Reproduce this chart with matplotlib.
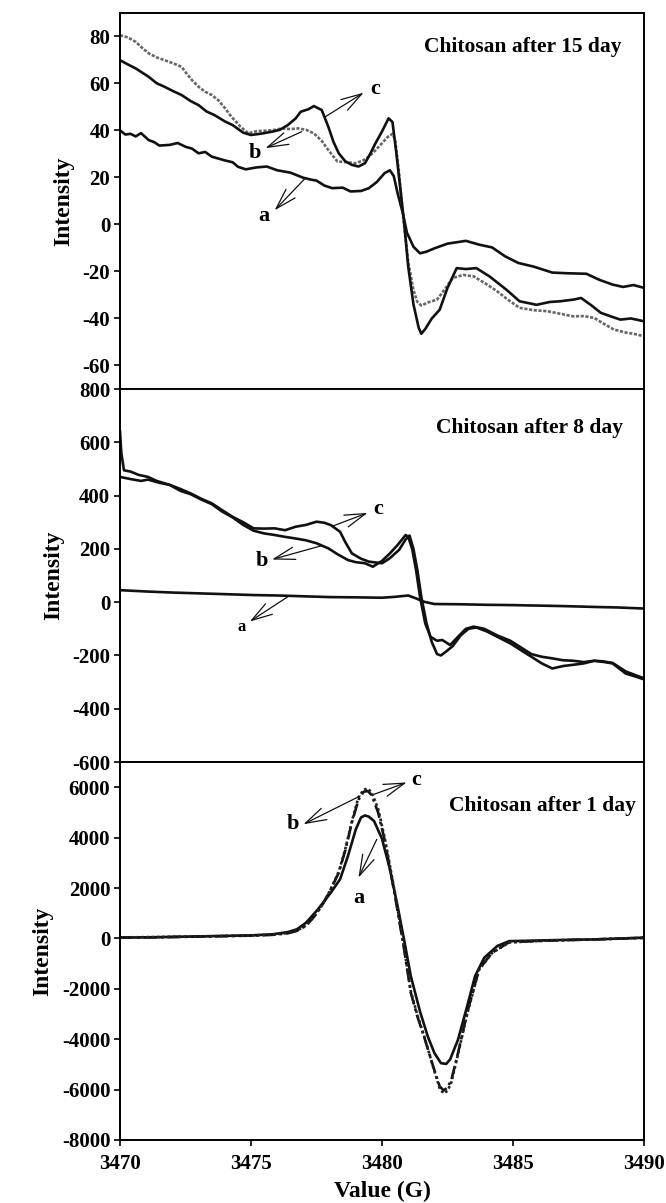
import numpy as np
import matplotlib
matplotlib.use("Agg")
import matplotlib.pyplot as plt

plt.rcParams['font.family'] = ['Liberation Serif', 'DejaVu Serif']
plt.rcParams['font.weight'] = 'bold'
plt.rcParams['axes.unicode_minus'] = False

# ---- 15 day panel ----
top_x_a = [3470.0, 3470.2, 3470.4, 3470.6, 3470.8, 3471.1, 3471.3, 3471.5, 3471.9, 3472.2,
           3472.5, 3472.75, 3473.0, 3473.25, 3473.5, 3474.0, 3474.3, 3474.5, 3474.8, 3475.2,
           3475.6, 3476.0, 3476.5, 3477.0, 3477.3, 3477.5, 3477.8, 3478.1, 3478.5, 3478.8,
           3479.2, 3479.5, 3479.8, 3480.1, 3480.3, 3480.45, 3480.6, 3480.8, 3480.95, 3481.2,
           3481.45, 3481.7, 3482.0, 3482.5, 3483.2, 3483.7, 3484.2, 3484.7, 3485.2, 3485.8,
           3486.5, 3487.1, 3487.8, 3488.3, 3488.8, 3489.2, 3489.6, 3490.0]
top_a = [40.0, 38.2, 38.5, 37.4, 38.8, 35.8, 35.0, 33.5, 33.8, 34.6,
         33.0, 32.2, 30.2, 30.8, 28.8, 27.2, 26.4, 24.5, 23.4, 24.2,
         24.6, 23.0, 22.0, 19.8, 19.0, 18.6, 16.5, 15.4, 15.6, 14.0,
         14.2, 15.4, 18.0, 21.8, 23.0, 20.5, 13.0, 4.5, -3.5, -9.5,
         -12.3, -11.6, -10.2, -8.2, -7.0, -8.6, -9.8, -13.6, -16.4, -18.0,
         -20.5, -20.8, -21.0, -23.6, -25.6, -26.6, -25.8, -27.0]

top_x_b = [3470.0, 3470.3, 3470.6, 3470.85, 3471.1, 3471.4, 3471.7, 3472.0, 3472.35, 3472.55,
           3472.75, 3473.0, 3473.25, 3473.5, 3473.75, 3474.0, 3474.25, 3474.6, 3474.9, 3475.2,
           3475.5, 3475.8, 3476.2, 3476.5, 3476.8, 3477.1, 3477.4, 3477.7, 3477.95, 3478.3,
           3478.6, 3478.97, 3479.25, 3479.5, 3479.75, 3480.0, 3480.2, 3480.4, 3480.5, 3480.65,
           3480.8, 3481.0, 3481.2, 3481.35, 3481.5, 3481.8, 3482.1, 3482.4, 3482.7, 3483.1,
           3483.5, 3483.7, 3484.0, 3484.4, 3484.8, 3485.25, 3485.8, 3486.3, 3486.8, 3487.3,
           3487.7, 3488.1, 3488.5, 3488.85, 3489.3, 3489.6, 3490.0]
top_b = [80.4, 79.5, 77.6, 75.0, 72.7, 71.0, 69.8, 68.6, 67.0, 64.0,
         61.3, 58.5, 56.4, 55.0, 52.8, 49.5, 45.8, 41.5, 38.7, 39.6,
         39.8, 40.0, 40.8, 40.5, 40.8, 40.2, 38.7, 35.5, 31.6, 26.7,
         26.5, 26.0, 27.0, 28.8, 31.5, 34.5, 37.0, 38.5, 36.0, 22.0,
         4.0, -16.0, -28.0, -33.0, -34.5, -33.0, -32.0, -27.5, -22.8, -21.5,
         -22.1, -23.5, -25.5, -28.5, -32.0, -35.5, -36.5, -36.9, -38.0, -39.1,
         -39.0, -39.8, -42.5, -44.7, -46.0, -46.5, -47.6]

top_x_c = [3470.0, 3470.3, 3470.6, 3471.1, 3471.4, 3471.7, 3472.0, 3472.35, 3472.7, 3473.0,
           3473.3, 3473.6, 3474.0, 3474.3, 3474.7, 3475.0, 3475.4, 3475.8, 3476.1, 3476.4,
           3476.7, 3476.9, 3477.2, 3477.4, 3477.7, 3477.95, 3478.15, 3478.35, 3478.6, 3478.85,
           3479.1, 3479.35, 3479.55, 3479.75, 3480.0, 3480.25, 3480.4, 3480.55, 3480.7, 3480.85,
           3481.0, 3481.2, 3481.4, 3481.5, 3481.65, 3481.9, 3482.2, 3482.5, 3482.85, 3483.2,
           3483.6, 3484.1, 3484.75, 3485.25, 3485.9, 3486.4, 3486.8, 3487.3, 3487.6, 3488.0,
           3488.35, 3488.7, 3489.1, 3489.5, 3490.0]
top_c = [69.8, 68.0, 66.3, 62.7, 60.0, 58.5, 56.8, 55.0, 52.4, 50.7,
         48.0, 46.5, 43.8, 42.2, 39.0, 38.0, 38.6, 39.4, 40.2, 42.2,
         45.0, 47.9, 49.0, 50.3, 48.6, 41.5, 35.0, 30.2, 26.8, 25.3,
         24.6, 26.0, 30.0, 34.5, 39.5, 45.1, 43.5, 30.0, 15.0, 0.0,
         -18.0, -34.0, -44.0, -46.5, -44.5, -40.0, -36.3, -27.0, -18.6, -19.0,
         -18.6, -22.1, -27.8, -32.7, -34.2, -33.0, -32.7, -32.0, -31.3, -34.5,
         -37.6, -39.0, -40.5, -40.0, -41.2]

# ---- 8 day panel ----
mid_x_a = [3470.0, 3471.0, 3472.0, 3473.0, 3474.0, 3475.1, 3476.0, 3477.0, 3478.0, 3479.0,
           3480.0, 3480.5, 3481.0, 3481.3, 3481.6, 3482.0, 3483.0, 3484.0, 3484.9, 3486.0,
           3487.0, 3488.1, 3489.0, 3490.0]
mid_a = [45, 40, 36, 33, 30, 26.6, 25, 22, 19, 18,
         16.6, 20, 25, 14, 1.6, -7, -8, -10, -11, -13,
         -15, -18, -20, -24]

mid_x_b = [3470.0, 3470.4, 3470.8, 3471.07, 3471.5, 3471.9, 3472.3, 3472.7, 3473.1, 3473.5,
           3473.9, 3474.3, 3474.7, 3475.1, 3475.5, 3475.9, 3476.3, 3476.7, 3477.1, 3477.5,
           3477.95, 3478.3, 3478.7, 3479.0, 3479.35, 3479.65, 3480.0, 3480.3, 3480.6, 3480.9,
           3481.0, 3481.15, 3481.3, 3481.45, 3481.65, 3481.85, 3482.1, 3482.3, 3482.6, 3482.9,
           3483.2, 3483.5, 3483.9, 3484.4, 3484.9, 3485.3, 3485.7, 3486.1, 3486.5, 3486.9,
           3487.3, 3487.7, 3488.1, 3488.4, 3488.8, 3489.3, 3489.7, 3490.0]
mid_b = [470, 462, 455, 460, 448, 440, 418, 405, 385, 368,
         340, 318, 290, 268, 258, 252, 245, 239, 232, 221,
         202, 180, 158, 150, 146, 133, 155, 183, 215, 252,
         245, 200, 120, 20, -80, -130, -145, -142, -161, -130,
         -100, -92, -100, -125, -145, -170, -195, -205, -211, -218,
         -220, -225, -220, -222, -228, -260, -275, -286]

mid_x_c = [3470.0, 3470.05, 3470.15, 3470.4, 3470.7, 3471.07, 3471.4, 3471.9, 3472.3, 3472.7,
           3473.1, 3473.5, 3473.9, 3474.3, 3474.7, 3475.1, 3475.5, 3475.9, 3476.3, 3476.7,
           3477.1, 3477.5, 3477.8, 3478.05, 3478.4, 3478.6, 3478.85, 3479.2, 3479.5, 3480.0,
           3480.3, 3480.65, 3480.9, 3481.05, 3481.2, 3481.35, 3481.5, 3481.7, 3481.9, 3482.1,
           3482.25, 3482.45, 3482.7, 3483.0, 3483.3, 3483.6, 3484.0, 3484.5, 3484.9, 3485.3,
           3485.7, 3486.1, 3486.5, 3486.9, 3487.3, 3487.7, 3488.1, 3488.5, 3488.8, 3489.3,
           3489.7, 3490.0]
mid_c = [640, 560, 495, 490, 478, 470, 455, 440, 425, 408,
         388, 371, 345, 320, 300, 277, 276, 277, 270, 283,
         290, 302, 298, 289, 264, 225, 183, 163, 152, 146,
         165, 196, 235, 250, 200, 120, 20, -80, -150, -195,
         -200, -185, -165, -125, -100, -95, -110, -135, -155, -180,
         -205, -230, -249, -240, -235, -230, -220, -225, -230, -268,
         -280, -290]

# ---- 1 day panel ----
bot_x_a = [3470.0, 3471.5, 3473.5, 3475.0, 3475.8, 3476.4, 3476.75, 3477.1, 3477.55, 3478.05,
           3478.4, 3478.7, 3479.0, 3479.2, 3479.35, 3479.5, 3479.7, 3480.0, 3480.3, 3480.6,
           3480.85, 3481.1, 3481.45, 3481.75, 3482.0, 3482.25, 3482.45, 3482.6, 3482.9, 3483.25,
           3483.55, 3483.9, 3484.4, 3484.85, 3486.5, 3488.1, 3490.0]
bot_a = [30, 50, 90, 120, 160, 250, 360, 620, 1150, 1820,
         2350, 3270, 4330, 4800, 4880, 4830, 4650, 3950, 2750, 1250,
         -100, -1500, -2900, -3900, -4550, -4950, -4980, -4800, -4020, -2690,
         -1500, -770, -300, -110, -70, -40, 30]

bot_x_bc = [3470.0, 3471.5, 3473.5, 3475.0, 3475.8, 3476.4, 3476.75, 3477.1, 3477.4, 3477.7,
            3478.0, 3478.35, 3478.6, 3478.85, 3479.1, 3479.3, 3479.45, 3479.6, 3479.85, 3480.1,
            3480.3, 3480.5, 3480.8, 3481.1, 3481.35, 3481.6, 3481.95, 3482.2, 3482.35, 3482.5,
            3482.65, 3482.9, 3483.25, 3483.7, 3484.2, 3484.85, 3486.5, 3488.1, 3490.0]
bot_b = [30, 45, 80, 110, 140, 200, 300, 500, 850, 1290,
         1850, 2610, 3500, 4600, 5500, 5820, 5850, 5700, 5000, 3900,
         2800, 1650, -150, -2160, -3100, -3880, -5070, -5870, -6030, -5920,
         -5600, -4550, -2950, -1230, -570, -150, -80, -40, 20]
bot_c = [40, 55, 85, 115, 150, 210, 310, 510, 860, 1300,
         1870, 2650, 3550, 4650, 5600, 5900, 5950, 5800, 5150, 4000,
         2900, 1750, -100, -2100, -3050, -3850, -5100, -5950, -6150, -6050,
         -5700, -4600, -3000, -1250, -580, -160, -80, -40, 25]

panel_titles = ["Chitosan after 15 day", "Chitosan after 8 day", "Chitosan after 1 day"]
top_ticks = [-60, -40, -20, 0, 20, 40, 60, 80]
mid_ticks = [-600, -400, -200, 0, 200, 400, 600, 800]
bot_ticks = [-8000, -6000, -4000, -2000, 0, 2000, 4000, 6000]
x_ticks = [3470, 3475, 3480, 3485, 3490]

fig = plt.figure(figsize=(6.66, 12.03), dpi=100)
L, W = 0.1802, 0.7868
ax1 = fig.add_axes([L, 0.67664, W, 0.98944 - 0.67664])
ax2 = fig.add_axes([L, 0.36658, W, 0.67664 - 0.36658])
ax3 = fig.add_axes([L, 0.05237, W, 0.36658 - 0.05237])

lw = 1.9
ax1.plot(top_x_a, top_a, color='#111111', lw=lw)
ax1.plot(top_x_b, top_b, color='#666666', lw=lw, ls=(0, (1.2, 0.6)))
ax1.plot(top_x_c, top_c, color='#111111', lw=lw)

ax2.plot(mid_x_a, mid_a, color='#111111', lw=lw)
ax2.plot(mid_x_b, mid_b, color='#111111', lw=lw)
ax2.plot(mid_x_c, mid_c, color='#111111', lw=lw)

ax3.plot(bot_x_a, bot_a, color='#111111', lw=lw)
ax3.plot(bot_x_bc, bot_b, color='#111111', lw=lw, ls=(0, (5, 1.5, 1, 1.5)))
ax3.plot(bot_x_bc, bot_c, color='#222222', lw=lw, ls=(0, (1, 1)))

ax1.set_ylim(-70, 90)
ax2.set_ylim(-600, 800)
ax3.set_ylim(-8000, 7000)
ax1.set_yticks(top_ticks)
ax2.set_yticks(mid_ticks)
ax3.set_yticks(bot_ticks)

for ax, title, tx, ty in zip([ax1, ax2, ax3], panel_titles,
                             [3489.15, 3489.2, 3489.7], [75.5, 653, 5260]):
    ax.set_xlim(3470, 3490)
    ax.set_xticks(x_ticks)
    ax.set_ylabel("Intensity", fontsize=17, fontweight='bold', labelpad=6)
    ax.text(tx, ty, title, fontsize=15.5, fontweight='bold', ha='right', va='center')
    ax.tick_params(axis='y', direction='out', length=4, width=1.2, labelsize=15, pad=3)
    ax.tick_params(axis='x', direction='out', length=4, width=1.2, labelsize=15, pad=6)
    for s in ax.spines.values():
        s.set_linewidth(1.4)

ax1.tick_params(axis='x', bottom=False, labelbottom=False)
ax2.tick_params(axis='x', bottom=False, labelbottom=False)
ax3.set_xlabel("Value (G)", fontsize=17, fontweight='bold', labelpad=5)

arrow = dict(arrowstyle='->, head_length=1.5, head_width=0.45', color='#111111', lw=0.9,
             shrinkA=0, shrinkB=0)

def tag(ax, letter, txt_xy, tail, tip, size=16, ha='center'):
    ax.annotate('', xy=tip, xytext=tail, arrowprops=arrow)
    ax.text(txt_xy[0], txt_xy[1], letter, fontsize=size, fontweight='bold', ha=ha, va='center')

tag(ax1, 'c', (3479.55, 57.5), (3477.8, 45.5), (3479.3, 56), ha='left')
tag(ax1, 'b', (3475.15, 30.5), (3476.93, 39.4), (3475.55, 32.4))
tag(ax1, 'a', (3475.5, 3.5), (3477.06, 19.5), (3475.9, 6.0))

tag(ax2, 'c', (3479.65, 348), (3478.1, 285), (3479.45, 335), ha='left')
tag(ax2, 'b', (3475.4, 155), (3477.7, 212), (3475.8, 160))
tag(ax2, 'a', (3474.65, -95), (3476.4, 20), (3474.95, -73), size=12)

tag(ax3, 'c', (3481.1, 6300), (3479.7, 5720), (3480.94, 6190), ha='left')
tag(ax3, 'b', (3476.6, 4530), (3479.16, 5650), (3477.0, 4530))
tag(ax3, 'a', (3479.1, 1590), (3479.8, 3930), (3479.1, 2410))

fig.savefig("out.png", dpi=100)
